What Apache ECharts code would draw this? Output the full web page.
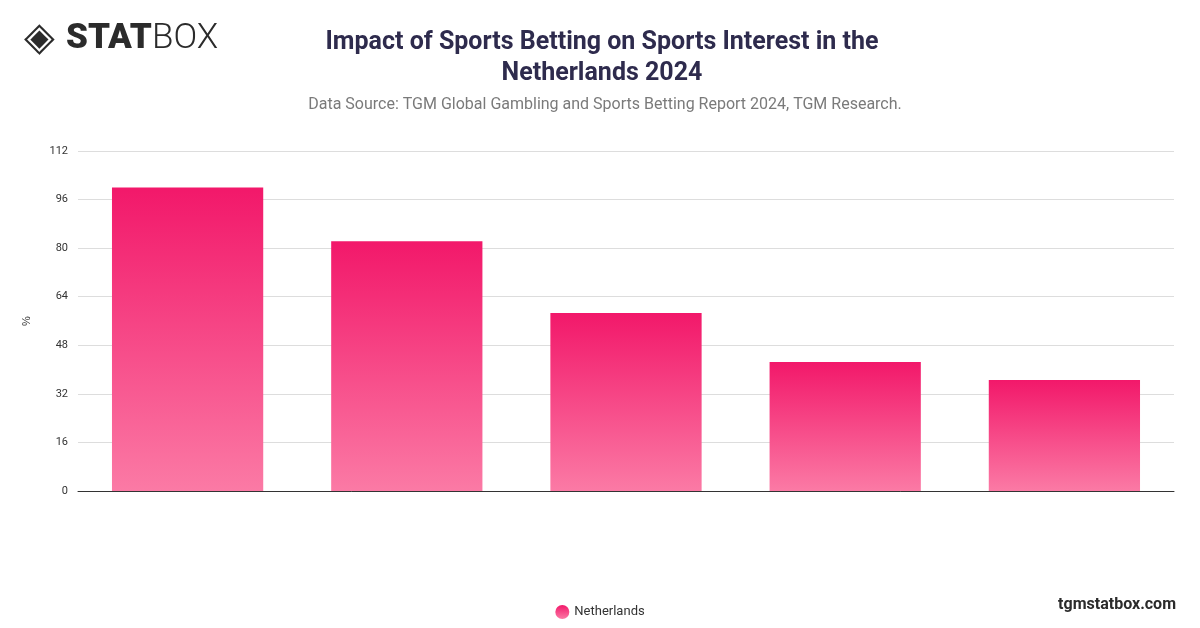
<!DOCTYPE html>
<html><head><meta charset="utf-8">
<script src="https://cdn.jsdelivr.net/npm/echarts@6/dist/echarts.min.js"></script>
<style>html,body{margin:0;padding:0;background:#fff}#c{width:1200px;height:628px}</style>
</head><body><div id="c"></div>
<script>
const categories = ["Category 1","Category 2","Category 3","Category 4","Category 5"];
const values = [100, 82.3, 58.6, 42.5, 36.6];
const yTicks = {min:0, max:112, interval:16};
const seriesName = "Netherlands";

const chart = echarts.init(document.getElementById('c'));
const grad = new echarts.graphic.LinearGradient(0,0,0,1,[{offset:0,color:'#f2186a'},{offset:1,color:'#fb7aa5'}]);
chart.setOption({
  animation:false,
  title:[
    {text:'Impact of Sports Betting on Sports Interest in the\nNetherlands 2024',left:597,top:22,textAlign:'center',
     textStyle:{fontFamily:'Roboto',fontSize:25,fontWeight:'bold',color:'#2e2b4d',lineHeight:31}},
    {text:'Data Source: TGM Global Gambling and Sports Betting Report 2024, TGM Research.',left:600,top:92,textAlign:'center',
     textStyle:{fontFamily:'Roboto',fontSize:16,fontWeight:'normal',color:'#7a7a7a'}}
  ],
  graphic:[
    {type:'text',left:24,top:20,style:{text:'◈',font:'bold 40px DejaVu Sans',fill:'#2b2b2b'}},
    {type:'text',left:66,top:22,style:{text:'STAT',font:'900 35px Roboto',fill:'#2b2b2b'}},
    {type:'text',left:152,top:22,style:{text:'BOX',font:'300 35px Roboto',fill:'#2b2b2b'}},
    {type:'text',right:24,top:597,style:{text:'tgmstatbox.com',font:'bold 16px Roboto',fill:'#2b2b2b'}}
  ],
  legend:{bottom:4,left:'center',icon:'circle',itemWidth:14,itemHeight:14,
    textStyle:{fontFamily:'Roboto',fontSize:13,color:'#333'},data:[seriesName]},
  grid:{left:78,right:26,top:151,bottom:137},
  xAxis:{type:'category',data:categories,axisLabel:{show:false},axisTick:{show:false},
    axisLine:{lineStyle:{color:'#333'}}},
  yAxis:{type:'value',min:yTicks.min,max:yTicks.max,interval:yTicks.interval,name:'%',
    nameLocation:'middle',nameGap:46,nameRotate:90,nameTextStyle:{fontSize:11,color:'#333'},
    axisLabel:{fontFamily:'Roboto',fontSize:11,color:'#333',margin:10},
    splitLine:{lineStyle:{color:'#ddd'}}},
  series:[{type:'bar',name:seriesName,data:values,barWidth:'69%',itemStyle:{color:grad}}]
});
</script></body></html>
